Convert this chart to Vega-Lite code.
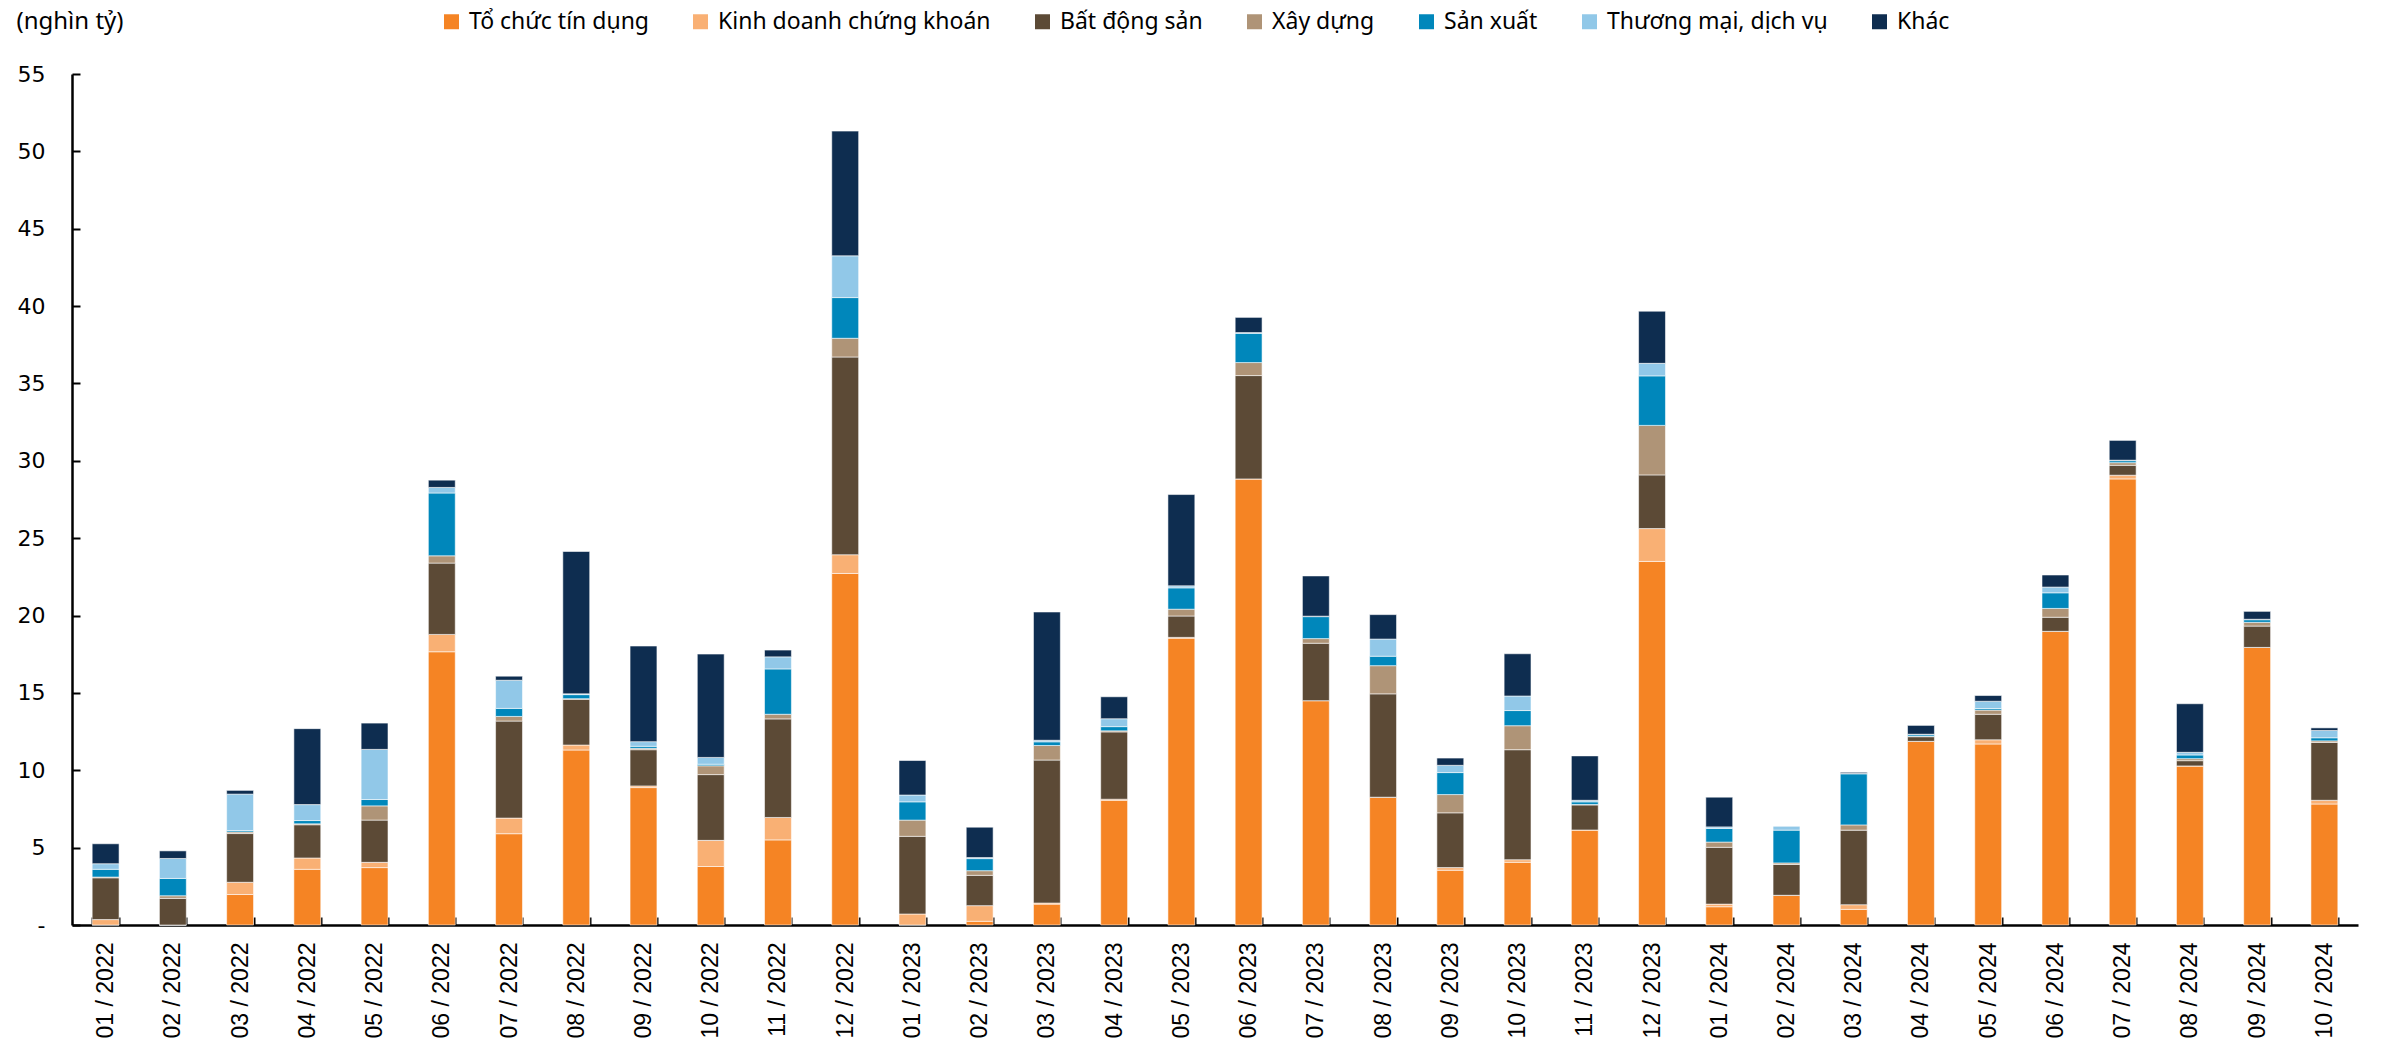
{
  "$schema": "https://vega.github.io/schema/vega-lite/v6.json",
  "width": 2286,
  "height": 851,
  "autosize": {"type": "none"},
  "padding": {"left": 72, "top": 74, "right": 23, "bottom": 128},
  "background": "white",
  "config": {"view": {"stroke": null}},
  "data": {
    "values": [
      {"thang": "01 / 2022", "Tổ chức tín dụng": 0, "Kinh doanh chứng khoán": 0.35, "Bất động sản": 2.7, "Xây dựng": 0.05, "Sản xuất": 0.5, "Thương mại, dịch vụ": 0.36, "Khác": 1.29},
      {"thang": "02 / 2022", "Tổ chức tín dụng": 0, "Kinh doanh chứng khoán": 0, "Bất động sản": 1.72, "Xây dựng": 0.17, "Sản xuất": 1.12, "Thương mại, dịch vụ": 1.29, "Khác": 0.49},
      {"thang": "03 / 2022", "Tổ chức tín dụng": 1.97, "Kinh doanh chứng khoán": 0.79, "Bất động sản": 3.15, "Xây dựng": 0.1, "Sản xuất": 0.09, "Thương mại, dịch vụ": 2.36, "Khác": 0.24},
      {"thang": "04 / 2022", "Tổ chức tín dụng": 3.6, "Kinh doanh chứng khoán": 0.73, "Bất động sản": 2.15, "Xây dựng": 0.06, "Sản xuất": 0.21, "Thương mại, dịch vụ": 1.03, "Khác": 4.91},
      {"thang": "05 / 2022", "Tổ chức tín dụng": 3.71, "Kinh doanh chứng khoán": 0.34, "Bất động sản": 2.73, "Xây dựng": 0.92, "Sản xuất": 0.41, "Thương mại, dịch vụ": 3.24, "Khác": 1.7},
      {"thang": "06 / 2022", "Tổ chức tín dụng": 17.66, "Kinh doanh chứng khoán": 1.12, "Bất động sản": 4.61, "Xây dựng": 0.47, "Sản xuất": 4.06, "Thương mại, dịch vụ": 0.36, "Khác": 0.47},
      {"thang": "07 / 2022", "Tổ chức tín dụng": 5.9, "Kinh doanh chứng khoán": 1.01, "Bất động sản": 6.27, "Xây dựng": 0.3, "Sản xuất": 0.52, "Thương mại, dịch vụ": 1.82, "Khác": 0.26},
      {"thang": "08 / 2022", "Tổ chức tín dụng": 11.31, "Kinh doanh chứng khoán": 0.32, "Bất động sản": 2.96, "Xây dựng": 0.04, "Sản xuất": 0.26, "Thương mại, dịch vụ": 0.05, "Khác": 9.2},
      {"thang": "09 / 2022", "Tổ chức tín dụng": 8.88, "Kinh doanh chứng khoán": 0.11, "Bất động sản": 2.34, "Xây dựng": 0.09, "Sản xuất": 0.13, "Thương mại, dịch vụ": 0.3, "Khác": 6.18},
      {"thang": "10 / 2022", "Tổ chức tín dụng": 3.78, "Kinh doanh chứng khoán": 1.69, "Bất động sản": 4.25, "Xây dựng": 0.57, "Sản xuất": 0.1, "Thương mại, dịch vụ": 0.44, "Khác": 6.68},
      {"thang": "11 / 2022", "Tổ chức tín dụng": 5.5, "Kinh doanh chứng khoán": 1.45, "Bất động sản": 6.37, "Xây dựng": 0.3, "Sản xuất": 2.93, "Thương mại, dịch vụ": 0.78, "Khác": 0.44},
      {"thang": "12 / 2022", "Tổ chức tín dụng": 22.72, "Kinh doanh chứng khoán": 1.21, "Bất động sản": 12.78, "Xây dựng": 1.21, "Sản xuất": 2.63, "Thương mại, dịch vụ": 2.7, "Khác": 8.06},
      {"thang": "01 / 2023", "Tổ chức tín dụng": 0, "Kinh doanh chứng khoán": 0.71, "Bất động sản": 5.02, "Xây dựng": 1.05, "Sản xuất": 1.18, "Thương mại, dịch vụ": 0.44, "Khác": 2.23},
      {"thang": "02 / 2023", "Tổ chức tín dụng": 0.24, "Kinh doanh chứng khoán": 1.01, "Bất động sản": 1.96, "Xây dựng": 0.3, "Sản xuất": 0.78, "Thương mại, dịch vụ": 0.07, "Khác": 1.96},
      {"thang": "03 / 2023", "Tổ chức tín dụng": 1.35, "Kinh doanh chứng khoán": 0.07, "Bất động sản": 9.24, "Xây dựng": 0.94, "Sản xuất": 0.24, "Thương mại, dịch vụ": 0.1, "Khác": 8.29},
      {"thang": "04 / 2023", "Tổ chức tín dụng": 8.06, "Kinh doanh chứng khoán": 0.07, "Bất động sản": 4.35, "Xây dựng": 0.07, "Sản xuất": 0.27, "Thương mại, dịch vụ": 0.51, "Khác": 1.42},
      {"thang": "05 / 2023", "Tổ chức tín dụng": 18.54, "Kinh doanh chứng khoán": 0.05, "Bất động sản": 1.38, "Xây dựng": 0.44, "Sản xuất": 1.38, "Thương mại, dịch vụ": 0.13, "Khác": 5.9},
      {"thang": "06 / 2023", "Tổ chức tín dụng": 28.83, "Kinh doanh chứng khoán": 0, "Bất động sản": 6.68, "Xây dựng": 0.84, "Sản xuất": 1.89, "Thương mại, dịch vụ": 0.05, "Khác": 0.98},
      {"thang": "07 / 2023", "Tổ chức tín dụng": 14.5, "Kinh doanh chứng khoán": 0, "Bất động sản": 3.71, "Xây dựng": 0.3, "Sản xuất": 1.42, "Thương mại, dịch vụ": 0.03, "Khác": 2.6},
      {"thang": "08 / 2023", "Tổ chức tín dụng": 8.26, "Kinh doanh chứng khoán": 0, "Bất động sản": 6.68, "Xây dựng": 1.82, "Sản xuất": 0.61, "Thương mại, dịch vụ": 1.11, "Khác": 1.58},
      {"thang": "09 / 2023", "Tổ chức tín dụng": 3.54, "Kinh doanh chứng khoán": 0.17, "Bất động sản": 3.54, "Xây dựng": 1.18, "Sản xuất": 1.42, "Thương mại, dịch vụ": 0.47, "Khác": 0.47},
      {"thang": "10 / 2023", "Tổ chức tín dụng": 4.05, "Kinh doanh chứng khoán": 0.17, "Bất động sản": 7.11, "Xây dựng": 1.55, "Sản xuất": 0.98, "Thương mại, dịch vụ": 0.94, "Khác": 2.73},
      {"thang": "11 / 2023", "Tổ chức tín dụng": 6.14, "Kinh doanh chứng khoán": 0, "Bất động sản": 1.62, "Xây dựng": 0.03, "Sản xuất": 0.17, "Thương mại, dịch vụ": 0.1, "Khác": 2.87},
      {"thang": "12 / 2023", "Tổ chức tín dụng": 23.5, "Kinh doanh chứng khoán": 2.12, "Bất động sản": 3.47, "Xây dựng": 3.2, "Sản xuất": 3.2, "Thương mại, dịch vụ": 0.81, "Khác": 3.37},
      {"thang": "01 / 2024", "Tổ chức tín dụng": 1.18, "Kinh doanh chứng khoán": 0.17, "Bất động sản": 3.67, "Xây dựng": 0.34, "Sản xuất": 0.88, "Thương mại, dịch vụ": 0.1, "Khác": 1.92},
      {"thang": "02 / 2024", "Tổ chức tín dụng": 1.92, "Kinh doanh chứng khoán": 0, "Bất động sản": 1.99, "Xây dựng": 0.1, "Sản xuất": 2.12, "Thương mại, dịch vụ": 0.27, "Khác": 0},
      {"thang": "03 / 2024", "Tổ chức tín dụng": 1.01, "Kinh doanh chứng khoán": 0.3, "Bất động sản": 4.82, "Xây dựng": 0.34, "Sản xuất": 3.3, "Thương mại, dịch vụ": 0.03, "Khác": 0.07},
      {"thang": "04 / 2024", "Tổ chức tín dụng": 11.87, "Kinh doanh chứng khoán": 0, "Bất động sản": 0.3, "Xây dựng": 0.03, "Sản xuất": 0.1, "Thương mại, dịch vụ": 0.03, "Khác": 0.57},
      {"thang": "05 / 2024", "Tổ chức tín dụng": 11.7, "Kinh doanh chứng khoán": 0.27, "Bất động sản": 1.65, "Xây dựng": 0.27, "Sản xuất": 0.1, "Thương mại, dịch vụ": 0.47, "Khác": 0.37},
      {"thang": "06 / 2024", "Tổ chức tín dụng": 18.98, "Kinh doanh chứng khoán": 0, "Bất động sản": 0.91, "Xây dựng": 0.57, "Sản xuất": 1.01, "Thương mại, dịch vụ": 0.37, "Khác": 0.78},
      {"thang": "07 / 2024", "Tổ chức tín dụng": 28.83, "Kinh doanh chứng khoán": 0.24, "Bất động sản": 0.64, "Xây dựng": 0.17, "Sản xuất": 0.13, "Thương mại, dịch vụ": 0.03, "Khác": 1.28},
      {"thang": "08 / 2024", "Tổ chức tín dụng": 10.28, "Kinh doanh chứng khoán": 0, "Bất động sản": 0.34, "Xây dựng": 0.13, "Sản xuất": 0.24, "Thương mại, dịch vụ": 0.17, "Khác": 3.14},
      {"thang": "09 / 2024", "Tổ chức tín dụng": 17.94, "Kinh doanh chứng khoán": 0, "Bất động sản": 1.38, "Xây dựng": 0.24, "Sản xuất": 0.17, "Thương mại, dịch vụ": 0.03, "Khác": 0.51},
      {"thang": "10 / 2024", "Tổ chức tín dụng": 7.82, "Kinh doanh chứng khoán": 0.24, "Bất động sản": 3.74, "Xây dựng": 0.1, "Sản xuất": 0.2, "Thương mại, dịch vụ": 0.47, "Khác": 0.17}
    ]
  },
  "transform": [
    {"fold": ["Tổ chức tín dụng", "Kinh doanh chứng khoán", "Bất động sản", "Xây dựng", "Sản xuất", "Thương mại, dịch vụ", "Khác"], "as": ["nganh", "gia_tri"]},
    {"calculate": "indexof(['Tổ chức tín dụng', 'Kinh doanh chứng khoán', 'Bất động sản', 'Xây dựng', 'Sản xuất', 'Thương mại, dịch vụ', 'Khác'], datum.nganh)", "as": "thu_tu"}
  ],
  "mark": {"type": "bar", "stroke": "white", "strokeWidth": 0.8, "strokeOpacity": 0.7},
  "encoding": {
    "x": {
      "field": "thang",
      "type": "nominal",
      "sort": null,
      "scale": {"paddingInner": 0.6, "paddingOuter": 0.3},
      "axis": {
        "title": null,
        "labelAngle": -90,
        "labelAlign": "right",
        "labelBaseline": "middle",
        "labelFont": "Liberation Sans",
        "labelFontSize": 23,
        "labelColor": "#000000",
        "labelPadding": 25,
        "domainColor": "#000000",
        "domainWidth": 2.5,
        "tickColor": "#000000",
        "tickWidth": 2,
        "tickSize": -8,
        "tickBand": "extent"
      }
    },
    "y": {
      "field": "gia_tri",
      "type": "quantitative",
      "stack": "zero",
      "scale": {"domain": [0, 55], "nice": false},
      "axis": {
        "values": [0, 5, 10, 15, 20, 25, 30, 35, 40, 45, 50, 55],
        "labelExpr": "datum.value === 0 ? '-' : datum.label",
        "grid": false,
        "labelFont": "DejaVu Sans",
        "labelFontSize": 22,
        "labelColor": "#000000",
        "labelPadding": 35,
        "domainColor": "#000000",
        "domainWidth": 2.5,
        "tickColor": "#000000",
        "tickWidth": 2,
        "tickSize": -8,
        "title": "(nghìn tỷ)",
        "titleAngle": 0,
        "titleAlign": "left",
        "titleBaseline": "middle",
        "titleX": -56,
        "titleY": -53,
        "titleFont": "Noto Sans",
        "titleFontSize": 24,
        "titleFontWeight": "normal",
        "titleColor": "#000000"
      }
    },
    "color": {
      "field": "nganh",
      "type": "nominal",
      "scale": {
        "domain": ["Tổ chức tín dụng", "Kinh doanh chứng khoán", "Bất động sản", "Xây dựng", "Sản xuất", "Thương mại, dịch vụ", "Khác"],
        "range": ["#F58424", "#F9B074", "#5C4A36", "#AF9477", "#0087BB", "#91C8E8", "#0E2D50"]
      },
      "legend": {
        "title": null,
        "orient": "none",
        "direction": "horizontal",
        "legendX": 368,
        "legendY": -64,
        "symbolType": "square",
        "symbolSize": 225,
        "symbolStrokeWidth": 0,
        "labelFont": "Noto Sans",
        "labelFontSize": 23,
        "labelColor": "#000000",
        "labelOffset": 6,
        "columnPadding": 40,
        "labelLimit": 400
      }
    },
    "order": {"field": "thu_tu", "type": "quantitative", "sort": "ascending"}
  }
}
